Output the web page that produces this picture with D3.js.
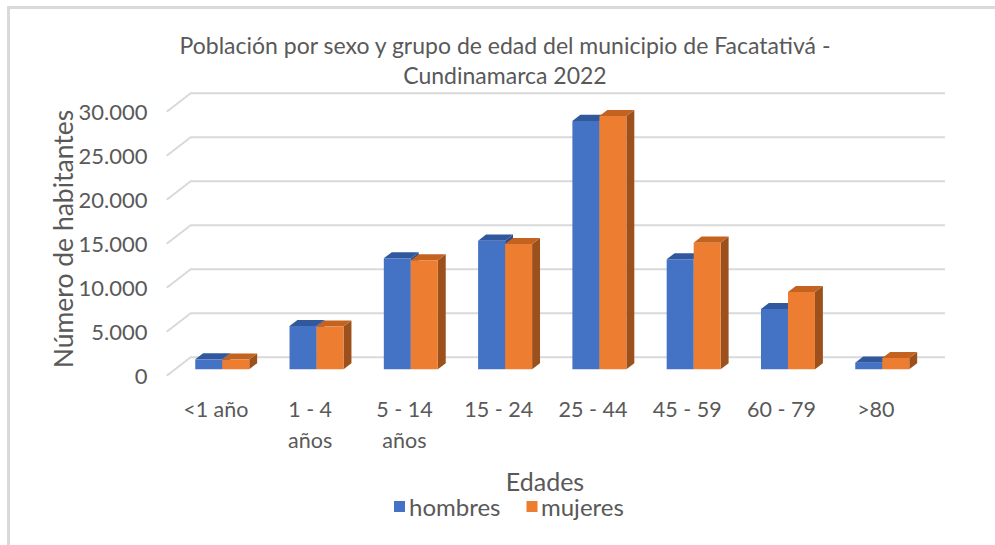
<!DOCTYPE html>
<html><head><meta charset="utf-8">
<script src="https://cdn.jsdelivr.net/npm/d3@7"></script>
<style>body{margin:0;background:#fff}svg{display:block}text{font-family:Lato,"Open Sans",sans-serif;fill:#595959}</style>
</head><body><svg id="c" width="995" height="545"></svg>
<script>
const categories = ["<1 año","1 - 4 años","5 - 14 años","15 - 24","25 - 44","45 - 59","60 - 79",">80"];
const categoryLines = [["<1 año"],["1 - 4","años"],["5 - 14","años"],["15 - 24"],["25 - 44"],["45 - 59"],["60 - 79"],[">80"]];
const seriesNames = ["hombres","mujeres"];
const hombres = [1130, 4920, 12610, 14610, 28220, 12500, 6850, 750];
const mujeres = [1100, 4850, 12390, 14240, 28780, 14390, 8780, 1280];
const yTicks = [0, 5000, 10000, 15000, 20000, 25000, 30000];
const titleLines = ["Población por sexo y grupo de edad del municipio de Facatativá -","Cundinamarca 2022"];

const svg = d3.select("#c");
const colors = {front:["#4472C4","#ED7D31"], top:["#31589C","#C4621F"], side:["#2C4F8C","#9C501C"]};

// chart border
svg.append("line").attr("x1",8).attr("x2",995).attr("y1",7.5).attr("y2",7.5).attr("stroke","#d9d9d9").attr("stroke-width",3);
svg.append("line").attr("x1",8.5).attr("x2",8.5).attr("y1",6).attr("y2",545).attr("stroke","#d9d9d9").attr("stroke-width",3);

const X0 = 166.7, Y0 = 375.7, W = 754.3, DX = 24, DY = 18.4;
const x = d3.scaleBand().domain(categories).range([0, W]).paddingInner(40.3/94.3).paddingOuter(20.15/94.3);
const xs = d3.scaleBand().domain(seriesNames).range([0, x.bandwidth()]);
const xc = d3.scaleBand().domain(categories).range([0, W]);
const y = d3.scaleLinear().domain([0, 30000]).range([0, 264]);
const P = (px, v, d) => [X0 + px + d*DX, Y0 - y(v) - d*DY];

// gridlines (left wall + back wall)
const g = svg.append("g");
yTicks.forEach(t => {
  const a = P(0,t,0), b = P(0,t,1), c = [945, b[1]];
  g.append("path").attr("d", d3.line()([a,b,c])).attr("fill","none").attr("stroke","#d9d9d9").attr("stroke-width",2);
  svg.append("text").attr("x",147.5).attr("y",a[1]).attr("dy","0.36em").attr("text-anchor","end")
    .style("font-size","22px").text(d3.format(",")(t).replace(/,/g,"."));
});

// bars
const d1 = 0.35, d2 = 0.68;
const data = [hombres, mujeres];
const bars = svg.append("g");
categories.forEach((cat, i) => {
  seriesNames.forEach((s, k) => {
    const v = data[k][i];
    const l = x(cat) + xs(s), r = l + xs.bandwidth();
    const fbl = P(l,0,d1), fbr = P(r,0,d1), ftl = P(l,v,d1), ftr = P(r,v,d1);
    const btl = P(l,v,d2), btr = P(r,v,d2), bbr = P(r,0,d2);
    bars.append("polygon").attr("points",[fbr,ftr,btr,bbr].join(" ")).attr("fill",colors.side[k]);
    bars.append("polygon").attr("points",[ftl,ftr,btr,btl].join(" ")).attr("fill",colors.top[k]);
    bars.append("polygon").attr("points",[fbl,fbr,ftr,ftl].join(" ")).attr("fill",colors.front[k]);
  });
});

// x labels
categories.forEach((cat, i) => {
  const cx = X0 + xc(cat) + xc.bandwidth()/2 + 2;
  categoryLines[i].forEach((ln, j) => {
    svg.append("text").attr("x",cx).attr("y",409 + j*31).attr("dy","0.36em").attr("text-anchor","middle")
      .style("font-size","21.5px").text(ln);
  });
});

// title
titleLines.forEach((t,j) => {
  svg.append("text").attr("x",505).attr("y",46 + j*30).attr("dy","0.36em").attr("text-anchor","middle")
    .style("font-size","23px").text(t);
});

// axis titles
svg.append("text").attr("transform","translate(63,239) rotate(-90)").attr("dy","0.36em").attr("text-anchor","middle")
  .style("font-size","26.5px").text("Número de habitantes");
svg.append("text").attr("x",545).attr("y",482).attr("dy","0.36em").attr("text-anchor","middle")
  .style("font-size","25px").text("Edades");

// legend
const leg = [{x:394, tx:409},{x:526.5, tx:541}];
seriesNames.forEach((s,k) => {
  svg.append("rect").attr("x",leg[k].x).attr("y",501).attr("width",11).attr("height",11).attr("fill",colors.front[k]);
  svg.append("text").attr("x",leg[k].tx).attr("y",507).attr("dy","0.36em").style("font-size","24px").text(s);
});
</script></body></html>
